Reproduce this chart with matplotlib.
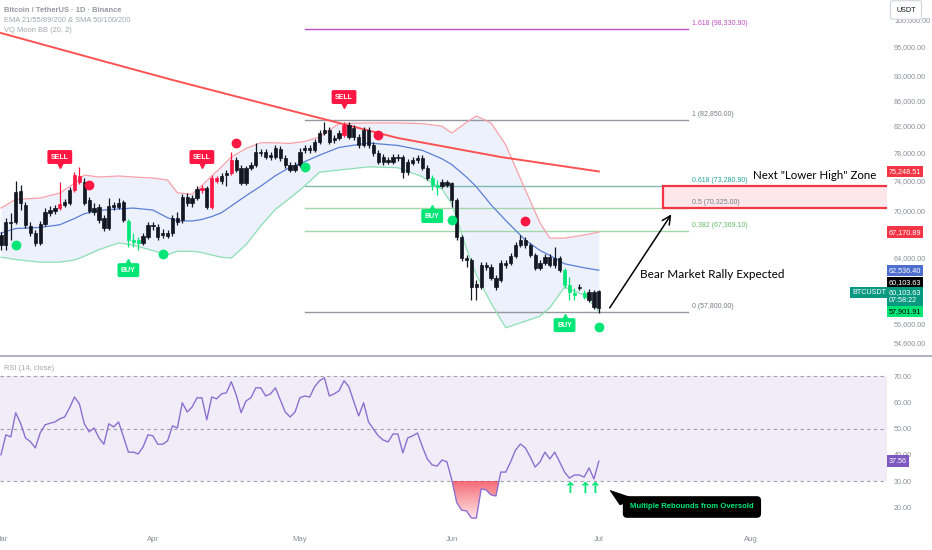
import matplotlib
matplotlib.use("Agg")
import matplotlib.pyplot as plt
import matplotlib.path as mpath
import matplotlib.transforms as mtransforms
import numpy as np
from matplotlib.patches import Rectangle, Polygon
from matplotlib.ticker import NullLocator

plt.rcParams["font.family"] = ["Liberation Sans", "DejaVu Sans"]

# daily candles, day 0 = 1 Mar, last = 1 Jul
opens = [66800, 65550, 68440, 68440, 72540, 70660, 67930, 67050, 65800, 68190,
         69610, 69870, 70260, 70660, 70920, 72670, 74610, 73770, 71320, 69740,
         70400, 68960, 67680, 70660, 70400, 71060, 68570, 66170, 66170, 65800,
         66550, 68060, 67800, 67050, 66670, 67050, 68960, 68700, 71730, 70920,
         71590, 72670, 72950, 70400, 74330, 73910, 74750, 75030, 76870, 75730,
         73640, 75730, 76160, 78040, 78040, 77310, 77310, 78480, 77160, 76160,
         75450, 76160, 78330, 78630, 78330, 79510, 80870, 81320, 79810, 80110,
         80570, 82090, 81630, 80260, 79070, 81320, 79070, 77890, 77310, 76870,
         76590, 77310, 77310, 75170, 76440, 76870, 77160, 75730, 74330, 73360,
         73220, 73770, 73640, 71320, 66550, 63970, 63730, 60590, 60590, 63140,
         62900, 61620, 61390, 63380, 63380, 64210, 65560, 66170, 65560, 64330,
         62790, 63380, 64090, 63140, 63970, 62550, 60820, 59690, 60480, 59910,
         59130, 60030, 58250]
highs = [67170, 68960, 69610, 73910, 73360, 71060, 68440, 67420, 68570, 70260,
         70530, 70660, 73770, 71460, 73080, 75170, 75870, 74330, 71730, 70920,
         70790, 69350, 71590, 71060, 71590, 71320, 68830, 67050, 66550, 67050,
         68440, 68440, 68190, 67550, 67420, 69350, 69740, 72130, 72270, 72000,
         73220, 73360, 73220, 74750, 74610, 75030, 75450, 78040, 77310, 76160,
         76020, 76590, 79370, 78480, 78480, 78040, 79070, 78920, 77600, 76590,
         76590, 78630, 79070, 79070, 79960, 81320, 82550, 81780, 80570, 81320,
         82550, 82550, 82090, 80720, 81780, 81780, 79510, 78330, 77750, 77310,
         77750, 77750, 77600, 77020, 77310, 77600, 77600, 76160, 74750, 74050,
         74190, 74050, 73770, 71590, 66800, 64330, 63970, 61390, 63490, 63490,
         63260, 61970, 63730, 63730, 64580, 65920, 66800, 66550, 65800, 64580,
         63730, 64450, 64450, 65310, 64210, 62790, 61740, 60480, 60930, 60250,
         60360, 60250, 60250]
lows = [64940, 64940, 66170, 68190, 70000, 67680, 66670, 65430, 65550, 67930,
        69220, 69480, 70000, 70400, 70660, 72400, 73500, 70660, 69610, 69350,
        68320, 67300, 67420, 70000, 70130, 68440, 65310, 65310, 64940, 65550,
        66300, 67420, 66170, 66420, 66420, 66670, 68060, 68320, 70530, 70400,
        71320, 72270, 70130, 70130, 73640, 73500, 73220, 74750, 75170, 73360,
        73360, 75450, 75880, 77450, 77020, 76870, 77020, 76730, 75730, 75170,
        75170, 75880, 77890, 77890, 78040, 79220, 80570, 79220, 79370, 79810,
        80260, 79960, 79810, 78630, 78770, 78630, 77450, 76300, 76160, 76300,
        76300, 76730, 74330, 74750, 76160, 76440, 75450, 74050, 72670, 72000,
        72950, 73080, 70400, 66170, 63610, 62900, 59130, 59130, 60360, 62550,
        61390, 60250, 61160, 62790, 63140, 63970, 65310, 65190, 64090, 62550,
        62550, 63140, 62900, 62790, 62320, 60480, 59130, 59130, 60250, 59240,
        58910, 58140, 57710]
closes = [65550, 68440, 68310, 72400, 70920, 68060, 67050, 65800, 68190, 69740,
          70000, 70260, 70790, 71060, 72670, 74750, 73770, 70920, 69870, 70260,
          68700, 67680, 70530, 70400, 70920, 68700, 66170, 65920, 65800, 66670,
          68060, 67930, 66550, 66800, 67050, 68960, 68440, 71730, 70920, 71590,
          72810, 72950, 70400, 74330, 73910, 74610, 75030, 76870, 75450, 73640,
          75730, 76160, 78040, 77890, 77310, 77600, 78630, 77160, 76160, 75450,
          76160, 78040, 78630, 78330, 79510, 80870, 81320, 79510, 80110, 80870,
          82090, 80260, 80260, 79070, 81320, 79070, 77890, 76590, 76590, 76590,
          77310, 77160, 75170, 76590, 76870, 77160, 75730, 74330, 73360, 73080,
          73770, 73360, 71320, 66550, 63970, 63730, 60590, 60930, 63140, 62900,
          61620, 60590, 63380, 63140, 64210, 65560, 66170, 65560, 64330, 62790,
          63380, 64090, 63140, 63970, 62550, 60820, 60030, 59910, 60590, 59470,
          60030, 58360, 60103.63]
red_bar_days = [12, 15, 16, 41, 43, 44, 47, 70]
green_bar_days = [26, 27, 28, 88, 89, 115, 116, 117, 119]

# VQ Moon BB (20, 2) and the 200 MA
band_days = [0, 3, 8, 12, 15, 17, 20, 24, 27, 31, 34, 36, 39, 41, 43, 45, 47, 50, 53, 56,
             59, 62, 65, 69, 75, 81, 86, 90, 92, 95, 97, 100, 103, 107, 110, 112, 115, 119, 122]
bb_upper = [70260, 71400, 71590, 72270, 73600, 74750, 74470, 74610, 74470, 74330,
            74050, 72300, 72100, 73300, 74600, 75900, 77300, 78550, 79400, 79400,
            79300, 79600, 80260, 82300, 82400, 82400, 82300, 81900, 80870, 82500,
            83490, 82400, 79100, 72700, 68320, 66420, 66420, 66800, 67170.89]
bb_basis = [67050, 67620, 67760, 68100, 68900, 69520, 69950, 70150, 70260, 70000,
            69000, 68600, 68580, 68780, 69150, 69650, 70540, 71900, 73200, 74650,
            75850, 76650, 77580, 78710, 79370, 79000, 78280, 77050, 76220, 74460,
            73120, 70700, 68650, 66170, 64900, 64300, 63300, 62830, 62536.40]
bb_lower = [64090, 63800, 63490, 63490, 63750, 64200, 65000, 65820, 65550, 64880,
            64400, 64800, 64800, 64650, 64350, 64080, 63990, 65600, 67950, 70100,
            71600, 73250, 75150, 75450, 75900, 75780, 74500, 72800, 70800, 65100,
            62000, 58800, 56150, 56850, 57400, 58300, 60590, 59700, 57901.91]
ma_days = [0, 20, 35, 61, 81, 102, 122]
ma200 = [97520, 92720, 89310, 83960, 80110, 77310, 75248.51]

# signals
sell_days = [12, 41, 70]
sell_prices = [77310, 77310, 86500]
buy_days = [26, 88, 115]
buy_prices = [62550, 69220, 56430]
red_dot_days = [18, 48, 77, 107]
red_dot_prices = [73360, 79370, 80570, 68570]
green_dot_days = [3, 33, 62, 92, 122]
green_dot_prices = [65560, 64460, 75880, 68700, 56210]

# fib retracement
fib_names = ["1.618", "1", "0.618", "0.5", "0.382", "0"]
fib_prices = [98330.90, 82850.00, 73280.90, 70325.00, 67369.10, 57800.00]
fib_line_colors = ["#c04cc4", "#9598a1", "#7fb9b0", "#a5d6a7", "#a5d6a7", "#9598a1"]
fib_text_colors = ["#c04cc4", "#787b86", "#26a69a", "#787b86", "#66bb6a", "#787b86"]
fib_start, fib_end = 62, 140.2

rsi = [40.0, 47.6, 46.8, 56.0, 52.0, 46.4, 45.0, 42.6, 48.3, 51.4,
       52.0, 52.5, 53.7, 54.4, 57.9, 62.0, 59.4, 51.8, 48.7, 50.2,
       46.4, 44.0, 51.8, 50.6, 52.5, 46.8, 41.0, 41.0, 40.3, 43.0,
       47.6, 47.2, 44.0, 44.0, 45.3, 51.0, 50.2, 59.8, 56.3, 58.2,
       61.7, 61.7, 53.3, 62.0, 61.3, 63.2, 63.6, 67.8, 62.8, 56.0,
       60.5, 61.7, 65.5, 65.5, 62.4, 63.2, 65.5, 60.9, 56.3, 54.4,
       56.3, 61.7, 62.4, 62.0, 65.9, 68.2, 69.3, 62.4, 63.2, 64.4,
       68.2, 65.9, 60.2, 54.8, 59.8, 52.5, 49.8, 47.2, 45.6, 44.9,
       47.9, 47.9, 40.7, 46.4, 47.2, 48.3, 43.0, 38.4, 36.1, 35.7,
       38.0, 37.3, 30.4, 21.8, 18.9, 18.6, 15.9, 15.9, 27.0, 26.6,
       24.7, 24.3, 33.4, 33.4, 37.3, 41.8, 44.1, 42.6, 39.2, 35.3,
       37.3, 41.0, 38.4, 41.0, 37.3, 33.4, 31.1, 32.3, 32.3, 31.5,
       35.0, 30.8, 37.56]
rebound_days = [116, 119, 121]

price_ticks = [54600, 56600, 64000, 70000, 74000, 78000, 82000, 86000, 90000, 95000, 100000]
rsi_ticks = [20, 30, 40, 50, 60, 70]
month_days = [0, 31, 61, 92, 122, 153]
month_names = ["Mar", "Apr", "May", "Jun", "Jul", "Aug"]

RED = "#ff1744"
GREEN = "#00e676"
GREY = "#8c8f99"
AXIS_FS = 5.2

fig = plt.figure(figsize=(9.32, 5.5), dpi=100)
ax = fig.add_axes([0, 0.3545, 0.9517, 0.6455])
ax_rsi = fig.add_axes([0, 0.04, 0.9517, 0.3091])

days = np.arange(len(closes))

# ---- price pane ----
ax.set_yscale("log")
ax.fill_between(band_days, bb_lower, bb_upper, color="#dde6fb", alpha=0.55, lw=0, zorder=1)
ax.plot(band_days, bb_upper, color="#f7a1a8", lw=0.9, zorder=2)
ax.plot(band_days, bb_lower, color="#8de0b4", lw=0.9, zorder=2)
ax.plot(band_days, bb_basis, color="#5b7fd6", lw=0.9, zorder=2)
ax.plot(ma_days, ma200, color="#ff5252", lw=1.4, zorder=2)

for name, p, lc, tc in zip(fib_names, fib_prices, fib_line_colors, fib_text_colors):
    ax.plot([fib_start, fib_end], [p, p], color=lc, lw=1.0, zorder=1.5)
    ax.text(fib_end + 0.8, p, f"{name} ({p:,.2f})", color=tc, fontsize=5.0, ha="left", va="bottom",
            transform=mtransforms.offset_copy(ax.transData, fig=fig, y=2, units="dots"), zorder=4)

zone = Rectangle((135, fib_prices[3]), 60, fib_prices[2] - fib_prices[3], facecolor="#fde7ea",
                 edgecolor="#f23645", lw=1.6, zorder=1.6)
ax.add_patch(zone)

colors = ["#131722"] * len(days)
for d in red_bar_days:
    colors[d] = RED
for d in green_bar_days:
    colors[d] = GREEN
body_lo = np.minimum(opens, closes)
body_hi = np.maximum(opens, closes)
ax.vlines(days, lows, highs, colors=colors, lw=0.9, zorder=3)
ax.bar(days, body_hi - body_lo, bottom=body_lo, width=0.66, color=colors, edgecolor=colors,
       linewidth=0.5, zorder=3)

ax.scatter(red_dot_days, red_dot_prices, s=50, color=RED, zorder=5, lw=0)
ax.scatter(green_dot_days, green_dot_prices, s=50, color=GREEN, zorder=5, lw=0)

for d, p in zip(sell_days, sell_prices):
    ax.text(d, p, "SELL", color="white", fontsize=5.0, fontweight="bold", ha="center", va="center",
            bbox=dict(boxstyle="round,pad=0.5,rounding_size=0.25", fc=RED, ec="none"), zorder=6)
    ax.plot(d, p, marker="v", ms=4, color=RED, zorder=6,
            transform=mtransforms.offset_copy(ax.transData, fig=fig, y=-8, units="dots"))
for d, p in zip(buy_days, buy_prices):
    ax.text(d, p, "BUY", color="white", fontsize=5.0, fontweight="bold", ha="center", va="center",
            bbox=dict(boxstyle="round,pad=0.5,rounding_size=0.25", fc=GREEN, ec="none"), zorder=6)
    ax.plot(d, p, marker="^", ms=4, color=GREEN, zorder=6,
            transform=mtransforms.offset_copy(ax.transData, fig=fig, y=8, units="dots"))

ax.annotate("", xy=(137.1, 69740), xytext=(123.9, 58030),
            arrowprops=dict(arrowstyle="->,head_length=0.6,head_width=0.3", color="black", lw=1.1), zorder=6)
ax.text(130.4, 62090, "Bear Market Rally Expected", fontsize=8.5, family="Lato", ha="left", va="center", zorder=6)
ax.text(153.5, 74610, "Next \"Lower High\" Zone", fontsize=8.3, family="Lato", ha="left", va="center", zorder=6)

ax.set_xlim(-0.2, 180.8)
ax.set_ylim(53357, 103739)
ax.yaxis.tick_right()
ax.yaxis.set_minor_locator(NullLocator())
ax.set_yticks(price_ticks)
ax.set_yticklabels([f"{v:,.2f}" for v in price_ticks])
ax.tick_params(axis="y", length=0, pad=5, labelsize=AXIS_FS, labelcolor=GREY)
ax.set_xticks([])
for s in ax.spines.values():
    s.set_visible(False)

ax.text(0.005, 1 - 10 / 355, "Bitcoin / TetherUS · 1D · Binance", transform=ax.transAxes, fontsize=5.4,
        color="#9598a1", fontweight="bold", va="center")
ax.text(0.005, 1 - 20 / 355, "EMA 21/55/89/200 & SMA 50/100/200", transform=ax.transAxes, fontsize=5.4,
        color="#a3a6af", va="center")
ax.text(0.005, 1 - 30 / 355, "VQ Moon BB (20, 2)", transform=ax.transAxes, fontsize=5.4,
        color="#a3a6af", va="center")


def price_tag(axis, value, text, bg, fg, dy=0, x=1.002, ha="left"):
    tr = mtransforms.offset_copy(axis.get_yaxis_transform(), fig=fig, y=dy, units="dots")
    axis.text(x, value, text, transform=tr, ha=ha, va="center", fontsize=AXIS_FS, color=fg, clip_on=False,
              linespacing=1.1, bbox=dict(boxstyle="square,pad=0.3", fc=bg, ec="none"), zorder=10)


price_tag(ax, ma200[-1], f"{ma200[-1]:,.2f}", "#f23645", "white")
price_tag(ax, bb_upper[-1], f"{bb_upper[-1]:,.2f}", "#f23645", "white")
price_tag(ax, bb_basis[-1], f"{bb_basis[-1]:,.2f}", "#4e6fcf", "white")
price_tag(ax, closes[-1], f"{closes[-1]:,.2f}", "black", "white", dy=9)
price_tag(ax, closes[-1], f"{closes[-1]:,.2f}\n07:58:22", "#089981", "white", dy=-5)
price_tag(ax, closes[-1], "BTCUSDT", "#089981", "white", dy=-1, x=0.999, ha="right")
price_tag(ax, bb_lower[-1], f"{bb_lower[-1]:,.2f}", GREEN, "black")

fig.text(906 / 932, 1 - 10 / 550, "USDT", fontsize=AXIS_FS, color="#131722", ha="center", va="center",
         bbox=dict(boxstyle="round,pad=0.8,rounding_size=0.3", fc="white", ec="#d1d4dc", lw=0.8), zorder=20)

# ---- RSI pane ----
ax_rsi.axhspan(30, 70, color="#7e57c2", alpha=0.1, lw=0)
for lvl in (70, 50, 30):
    ax_rsi.axhline(lvl, color="#9598a1", lw=0.8, dashes=(3, 3), alpha=0.9)
ax_rsi.plot(days, rsi, color="#8c6fd0", lw=1.0, zorder=3)

rsi_arr = np.array(rsi)
poly = ax_rsi.fill_between(days, rsi_arr, 30, where=rsi_arr < 30, interpolate=True,
                           facecolor="none", edgecolor="none")
grad = np.zeros((100, 1, 4))
grad[..., 0] = 242 / 255
grad[..., 1] = 54 / 255
grad[..., 2] = 69 / 255
grad[:, 0, 3] = np.linspace(0.05, 0.75, 100)
img = ax_rsi.imshow(grad, extent=[88, 104, 30, 14], aspect="auto", origin="upper", zorder=2)
clip = mpath.Path.make_compound_path(*poly.get_paths())
img.set_clip_path(clip, transform=ax_rsi.transData)

for d in rebound_days:
    ax_rsi.text(d, 27.3, "↑", color=GREEN, fontsize=11, fontweight="bold", ha="center", va="center",
                family="DejaVu Sans")

# speech-bubble tail of the callout
ax_rsi.add_patch(Polygon([(124.3, 26.4), (126.3, 20.9), (129.4, 23.2)], closed=True, fc="black", ec="black",
                         lw=0.5, zorder=5))
ax_rsi.text(141, 20.1, "Multiple Rebounds from Oversold", ha="center", va="center", fontsize=5.6,
            color=GREEN, fontweight="bold", zorder=6,
            bbox=dict(boxstyle="round,pad=0.85,rounding_size=0.45", fc="black", ec="black"))

ax_rsi.text(0.005, 0.941, "RSI (14, close)", transform=ax_rsi.transAxes, fontsize=5.4, color="#a3a6af",
            va="center")
price_tag(ax_rsi, rsi[-1], f"{rsi[-1]:.2f}", "#7e57c2", "white")

ax_rsi.set_xlim(-0.2, 180.8)
ax_rsi.set_ylim(12.1, 76.86)
ax_rsi.yaxis.tick_right()
ax_rsi.set_yticks(rsi_ticks)
ax_rsi.set_yticklabels([f"{v:.2f}" for v in rsi_ticks])
ax_rsi.set_xticks(month_days)
ax_rsi.set_xticklabels(month_names)
ax_rsi.tick_params(length=0, labelsize=AXIS_FS + 0.4, labelcolor=GREY)
ax_rsi.tick_params(axis="y", pad=5, labelsize=AXIS_FS)
ax_rsi.tick_params(axis="x", pad=6)
for s in ax_rsi.spines.values():
    s.set_visible(False)

fig.add_artist(plt.Line2D([0, 1], [1 - 356 / 550, 1 - 356 / 550], color="#b2b5be", lw=1.5))

fig.savefig("out.png", dpi=100)
